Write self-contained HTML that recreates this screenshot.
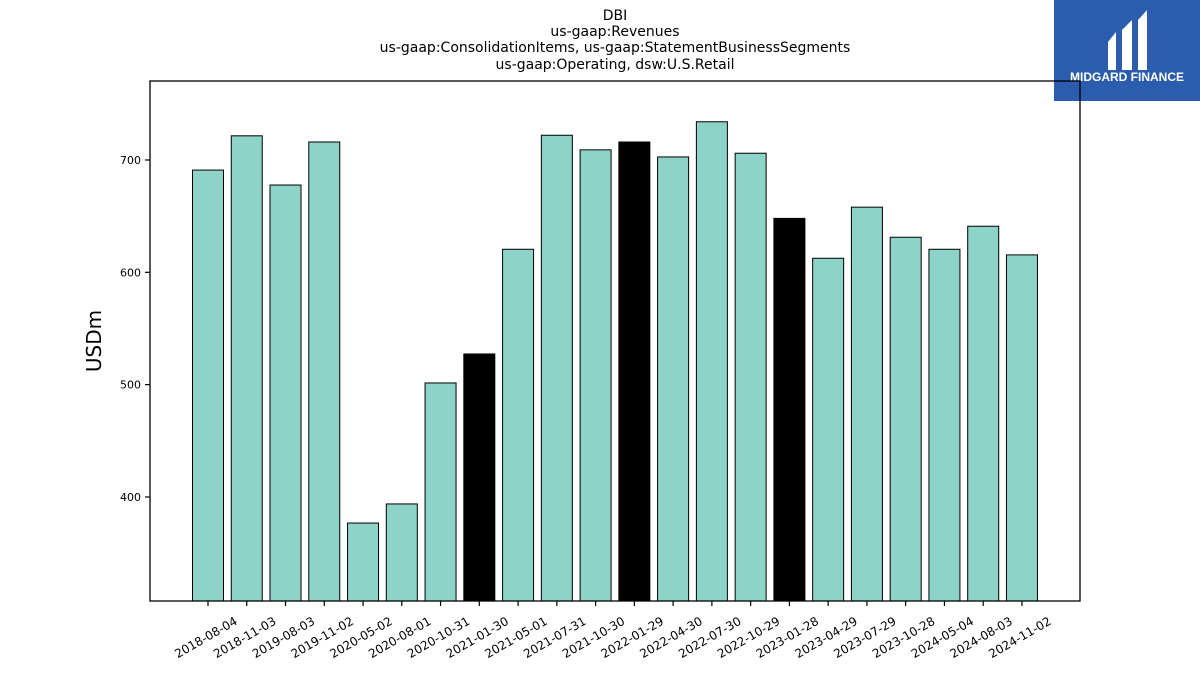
<!DOCTYPE html>
<html><head><meta charset="utf-8"><style>
body{margin:0;background:#fff;font-family:"Liberation Sans","DejaVu Sans",sans-serif}
</style></head><body>
<svg width="1200" height="675" xmlns="http://www.w3.org/2000/svg" font-family="'DejaVu Sans','Liberation Sans',sans-serif">
<g font-size="14" text-anchor="middle" fill="#000">
<text x="615" y="20">DBI</text>
<text x="615" y="36">us-gaap:Revenues</text>
<text x="615" y="52">us-gaap:ConsolidationItems, us-gaap:StatementBusinessSegments</text>
<text x="615" y="69">us-gaap:Operating, dsw:U.S.Retail</text>
</g>
<g>
<rect x="1054" y="0" width="146" height="101" fill="#2b5cad"/>
<path d="M1108 42 L1116 32 L1116 70 L1108 70 Z" fill="#fff"/>
<path d="M1122 30 L1132 20 L1132 70 L1122 70 Z M1122 42 L1130 52 L1122 58Z" fill="#fff"/>
<path d="M1138 20 L1147 10 L1147 70 L1138 70 Z" fill="#fff"/>
<text x="1127" y="81" font-size="12" font-weight="bold" fill="#fff" text-anchor="middle" font-family="'Liberation Sans',sans-serif">MIDGARD FINANCE</text>
</g>
<g id="bars"></g>
<g id="axes"></g>
<text transform="translate(101,341) rotate(-90)" font-size="20" text-anchor="middle">USDm</text>
</svg>
<script>
const categories=["2018-08-04","2018-11-03","2019-08-03","2019-11-02","2020-05-02","2020-08-01","2020-10-31","2021-01-30","2021-05-01","2021-07-31","2021-10-30","2022-01-29","2022-04-30","2022-07-30","2022-10-29","2023-01-28","2023-04-29","2023-07-29","2023-10-28","2024-05-04","2024-08-03","2024-11-02"];
const values=[691,721.5,677.7,716,376.8,393.8,501.5,527.3,620.5,722,709,716,702.7,734,706,648,612.5,658,631.2,620.5,641,615.5];
const highlighted=[7,11,15];
const yTicks=[400,500,600,700];
const NS="http://www.w3.org/2000/svg";
const L=150,R=1080,T=81,B=601,yMin=307.4,yMax=770.3;
const y=v=>B-(v-yMin)/(yMax-yMin)*(B-T);
const step=38.76,x0=208;
const x=i=>x0+i*step;
const bw=31;
const bars=document.getElementById('bars'),axes=document.getElementById('axes');
function mk(t,a,p){const e=document.createElementNS(NS,t);for(const k in a)e.setAttribute(k,a[k]);p.appendChild(e);return e;}
values.forEach((v,i)=>{
 const r=mk('rect',{x:x(i)-bw/2,y:y(v),width:bw,height:B-y(v),fill:highlighted.includes(i)?'#000':'#8dd3c7',stroke:'#000','stroke-width':1},bars);
 
 
 const tk=mk('line',{x1:x(i),x2:x(i),y1:B,y2:B+5,stroke:'#000','stroke-width':1.2},axes);
 
 
 const t=mk('text',{transform:`translate(${x(i)},${B+40}) rotate(-30)`,'font-size':12,'text-anchor':'middle'},axes);
 
 
 t.textContent=categories[i];
});
yTicks.forEach(v=>{
 const tk=mk('line',{x1:L-5,x2:L,y1:y(v),y2:y(v),stroke:'#000','stroke-width':1.2},axes);
 
 
 const t=mk('text',{x:L-9,y:y(v)+4,'font-size':11,'text-anchor':'end'},axes);
 
 
 t.textContent=v;
});
const f=mk('rect',{x:L,y:T,width:R-L,height:B-T,fill:'none',stroke:'#000','stroke-width':1.3},axes);


</script>
</body></html>
